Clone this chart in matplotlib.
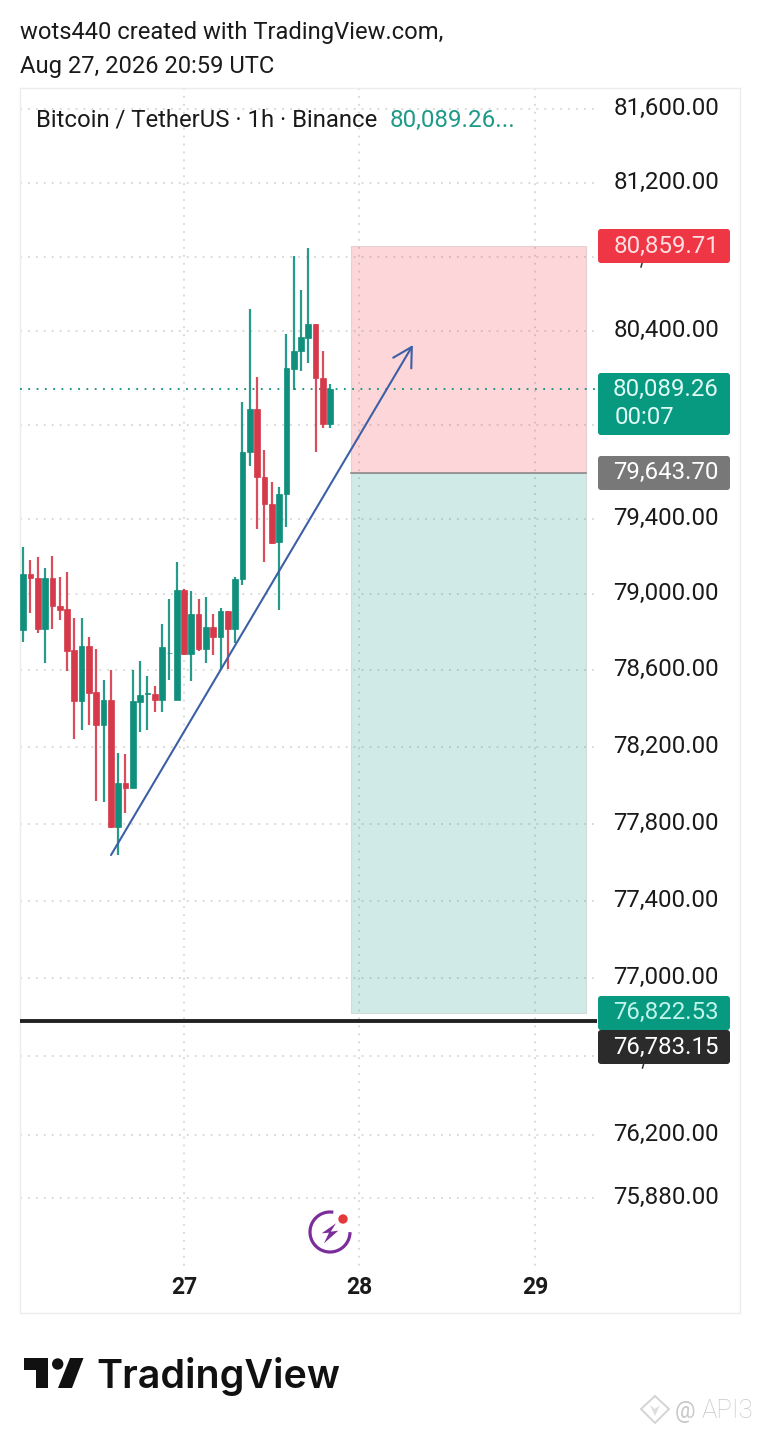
import numpy as np
import matplotlib
matplotlib.use("Agg")
import matplotlib.pyplot as plt
from matplotlib.patches import Rectangle, FancyBboxPatch, Polygon, Circle
from matplotlib.transforms import blended_transform_factory

plt.rcParams['font.family'] = ['Roboto', 'DejaVu Sans']

# ---- data ----
hours = list(range(-22, 21))  # hours from 27 Aug 00:00
opens = [78813,79108,79087,78818,79087,78941,78923,78707,78441,78728,78487,78314,78445,77784,78012,77987,78436,78476,78476,78445,78693,78445,79024,78686,78897,78712,78828,78777,78913,78818,79082,79755,79985,79622,79478,79278,79531,80199,80296,80366,80440,80150,79905]
highs = [79251,79181,79197,79139,79202,79094,79118,78876,78876,78777,78712,78550,78602,78170,78163,78602,78649,78571,78519,78844,78976,79171,79029,79018,78976,78987,78897,78929,78913,79092,80022,80521,80157,79766,79595,79568,80386,80803,80623,80850,80440,80295,80118]
lows = [78751,78902,78797,78639,78818,78865,78599,78241,78288,78314,77919,77914,77777,77637,77855,77987,78279,78288,78382,78382,78550,78660,78681,78546,78703,78640,78681,78602,78607,78744,79050,79678,79345,79172,79266,78918,79356,80086,80188,80232,79752,79884,79884]
closes = [79108,79084,78818,79087,78941,78918,78703,78441,78728,78483,78314,78445,77784,78012,77987,78440,78471,78482,78445,78724,78693,79024,78686,78897,78712,78828,78777,78913,78818,79082,79755,79985,79622,79478,79273,79531,80204,80296,80370,80440,80150,79905,80089.26]

grid_prices = [81600,81200,80800,80400,79900,79400,79000,78600,78200,77800,77400,77000,76600,76200,75880]
label_prices = [81600,81200,80400,79400,79000,78600,78200,77800,77400,77000,76200,75880]
day_ticks = [0, 24, 48]
day_labels = ['27', '28', '29']

current_price = 80089.26
target_price = 80859.71
entry_price = 79643.70
stop_price = 76822.53
level_price = 76783.15
position_hours = [22.9, 55.0]
arrow_from = (-9.98, 77637)
arrow_to = (31.3, 80326)

W, H = 760, 1434
GREEN, RED = '#0f8f7c', '#d53a4b'
fig = plt.figure(figsize=(W/100, H/100), dpi=100, facecolor='white')

L, R, T, B = 20, 740, 88, 1313
ax = fig.add_axes([L/W, 1-B/H, (R-L)/W, (B-T)/H])
ax.set_yscale('log')
ax.set_ylim(75299, 81716.6)
ax.set_xlim((L-184)/7.3125, (R-184)/7.3125)
ax.minorticks_off()
ax.tick_params(left=False, bottom=False, labelleft=False, labelbottom=False, which='both')
for s in ax.spines.values():
    s.set_color('#ececec'); s.set_linewidth(1)

def xpx(px):
    return (px-L)/(R-L)
def ypx(px):
    return 1-(px-T)/(B-T)

GRID = '#cfcfcf'
dots = (0, (1.2, 4))
for p in grid_prices:
    ax.plot([0, xpx(596)], [p, p], transform=ax.get_yaxis_transform(), color=GRID, lw=1.1, ls=dots, zorder=1)
for d in day_ticks:
    ax.plot([d, d], [ypx(88), ypx(1272)], transform=ax.get_xaxis_transform(), color=GRID, lw=1.1, ls=dots, zorder=1)

# position tool (translucent, so the grid shows through)
ax.add_patch(Rectangle((position_hours[0], entry_price), position_hours[1]-position_hours[0], target_price-entry_price,
                       fc=(0.949, 0.212, 0.271, 0.2), ec=(0.85, 0.75, 0.75, 0.6), lw=0.8, zorder=2))
ax.add_patch(Rectangle((position_hours[0], stop_price), position_hours[1]-position_hours[0], entry_price-stop_price,
                       fc=(0.031, 0.6, 0.506, 0.19), ec=(0.8, 0.84, 0.83, 0.8), lw=0.8, zorder=2))
ax.plot(position_hours, [entry_price, entry_price], color='#8a8a8a', lw=1.2, zorder=3)

# horizontal level & current price
ax.plot([0, xpx(597)], [level_price, level_price], transform=ax.get_yaxis_transform(), color='#222222', lw=2.8, zorder=4, solid_capstyle='butt')
ax.plot([0, xpx(597)], [current_price, current_price], transform=ax.get_yaxis_transform(), color='#0f8f7c', lw=1.3, ls=(0, (1, 3.6)), zorder=4)

# candles
for h, o, hi, lo, c in zip(hours, opens, highs, lows, closes):
    col = GREEN if c >= o else RED
    ax.plot([h, h], [lo, hi], color=col, lw=1.6, zorder=5, solid_capstyle='butt', alpha=0.9)
    ax.add_patch(Rectangle((h-0.39, min(o, c)), 0.78, abs(c-o), fc=col, ec=col, lw=0.5, zorder=6))

# trend arrow
ax.annotate('', xy=arrow_to, xytext=arrow_from, zorder=7,
            arrowprops=dict(arrowstyle='->,head_length=0.75,head_width=0.42', color='#3c5fa6', lw=1.5,
                            shrinkA=0, shrinkB=0, mutation_scale=18))

# price labels
tr = blended_transform_factory(ax.transAxes, ax.transData)
for p in label_prices:
    ax.text(xpx(719), p*np.exp(3/14978), f'{p:,.2f}', transform=tr, ha='right', va='center_baseline',
            fontsize=17.3, color='#1a1a1a', zorder=8, clip_on=False)

# day labels
for d, lab in zip(day_ticks, day_labels):
    ax.text(d, ypx(1287), lab, transform=ax.get_xaxis_transform(), ha='center', va='center',
            fontsize=16.5, fontweight='bold', color='#1a1a1a')

# pixel overlay for tags, titles, logo
ov = fig.add_axes([0, 0, 1, 1], facecolor='none')
ov.set_xlim(0, W); ov.set_ylim(H, 0); ov.axis('off')

def tag(y0, y1, color, lines, tc='white'):
    ov.add_patch(FancyBboxPatch((598+3, y0+3), 132-6, (y1-y0)-6, boxstyle='round,pad=3,rounding_size=3',
                                fc=color, ec='none', zorder=10))
    for yy, s, xx, ha in lines:
        ov.text(xx, yy, s, ha=ha, va='center_baseline', fontsize=17.3, color=tc, zorder=11)

tag(229, 263, '#ee3645', [(244, '80,859.71', 719, 'right')], '#ffdfe2')
tag(373, 435, '#089981', [(387, '80,089.26', 719, 'right'), (415, '00:07', 615, 'left')], '#dffbf4')
tag(456, 490, '#787878', [(470, '79,643.70', 719, 'right')], '#ffffff')
tag(996, 1030, '#089981', [(1010, '76,822.53', 719, 'right')], '#bff5ea')
tag(1030, 1064, '#2b2b2b', [(1045, '76,783.15', 719, 'right')], '#ffffff')

# traces of the axis labels that peek out below the tags
ov.plot([642, 641], [263.5, 267], color='#333333', lw=1.1)
ov.plot([643.5, 642.5], [1064.5, 1068], color='#333333', lw=1.1)

# header
ov.text(20, 30, 'wots440 created with TradingView.com,', fontsize=17.15, va='center_baseline', color='#1a1a1a')
ov.text(20, 64, 'Aug 27, 2026 20:59 UTC', fontsize=17.15, va='center_baseline', color='#1a1a1a')
ov.text(36, 118, 'Bitcoin / TetherUS · 1h · Binance', fontsize=17.2, va='center_baseline', color='#1a1a1a', zorder=9)
ov.text(390, 118, '80,089.26...', fontsize=17.4, va='center_baseline', color='#1f9a88', zorder=9)

# purple icon
t = np.radians(np.linspace(85, 355, 120))
ov.plot(330+20*np.cos(t), 1232-20*np.sin(t), color='#7b2d9b', lw=2.3)
ov.add_patch(Polygon([(336, 1223.3), (321.7, 1233.3), (329, 1232.7), (324, 1243.3), (338.3, 1230.7), (330.7, 1231.7)],
                     closed=True, fc='#7b2d9b', ec='none'))
ov.add_patch(Circle((343, 1219), 5.4, fc='#e5383b', ec='white', lw=1))

# TradingView logo
LOGO = '#111111'
ov.add_patch(Polygon([(24, 1358), (48, 1358), (48, 1388), (36, 1388), (36, 1370), (24, 1370)], closed=True, fc=LOGO, ec='none'))
ov.add_patch(Circle((57.7, 1364), 5.7, fc=LOGO, ec='none'))
ov.add_patch(Polygon([(70, 1358), (83.5, 1358), (72, 1388), (58, 1388)], closed=True, fc=LOGO, ec='none'))
ov.text(96, 1388, 'TradingView', family=['Inter', 'DejaVu Sans'], fontweight='semibold', fontsize=28.4, color=LOGO, va='baseline')

# watermark
WM = '#c9c9c9'
ov.text(675, 1409, '@', fontsize=16.5, color=WM, va='center_baseline')
ov.text(702, 1409, 'API3', fontsize=18.5, color=WM, va='center_baseline', fontweight='light')
ov.add_patch(Polygon([(655, 1396), (669, 1409), (655, 1423), (641, 1409)], closed=True, fc='none', ec='#d4d4d4', lw=1.4))
ov.add_patch(Polygon([(650, 1405), (655, 1409), (660, 1405), (655, 1416)], closed=True, fc='#dddddd', ec='none'))

fig.savefig('out.png', dpi=100)
